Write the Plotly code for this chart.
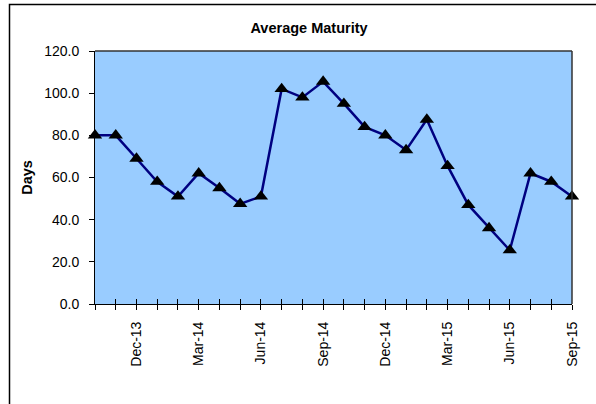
import plotly.graph_objects as go

months = ["Oct-13", "Nov-13", "Dec-13", "Jan-14", "Feb-14", "Mar-14", "Apr-14", "May-14",
          "Jun-14", "Jul-14", "Aug-14", "Sep-14", "Oct-14", "Nov-14", "Dec-14", "Jan-15",
          "Feb-15", "Mar-15", "Apr-15", "May-15", "Jun-15", "Jul-15", "Aug-15", "Sep-15"]
days = [80, 80, 69, 58, 51, 62, 55, 47.5, 51, 102, 98, 105.5, 95, 84, 80, 73,
        87.5, 65.5, 47, 36, 25.5, 62, 58, 51]
label_months = ["Dec-13", "Mar-14", "Jun-14", "Sep-14", "Dec-14", "Mar-15", "Jun-15", "Sep-15"]

idx = list(range(len(months)))

W, H = 596, 404
L, R, T, B = 95, 24, 51, 100
pw, ph = W - L - R, H - T - B

fig = go.Figure()
fig.add_trace(go.Scatter(
    x=idx, y=days, mode="lines+markers",
    line=dict(color="#000080", width=2.5),
    marker=dict(symbol="triangle-up", size=12.5, color="black"),
    cliponaxis=False, showlegend=False, hoverinfo="skip"))
# dummy trace for the inner tick axis
fig.add_trace(go.Scatter(x=idx, y=days, xaxis="x2", mode="none",
                         showlegend=False, hoverinfo="skip"))

FAM = "Liberation Sans, Arial, sans-serif"
font = dict(family=FAM, size=14, color="black")

fig.update_layout(
    width=W, height=H,
    margin=dict(l=L, r=R, t=T, b=B, pad=0),
    paper_bgcolor="white",
    plot_bgcolor="#99CCFF",
    font=font,
    title=dict(text="<b>Average Maturity</b>", x=(309 - L) / pw, xref="paper",
               xanchor="center", y=1 - 27.5 / H, yanchor="middle",
               font=dict(family=FAM, size=14.5, color="black")),
    xaxis=dict(
        range=[0, len(months) - 1], tickmode="array", tickvals=idx,
        ticktext=[m if m in label_months else "" for m in months],
        tickangle=-90, ticks="outside", ticklen=5, tickwidth=1, tickcolor="black",
        ticklabelstandoff=6,
        showline=True, linecolor="black", linewidth=1, showgrid=False, zeroline=False,
        mirror=False, tickfont=font),
    xaxis2=dict(
        range=[0, len(months) - 1], overlaying="x", anchor="y", side="bottom",
        tickmode="array", tickvals=idx, ticks="inside", ticklen=5, tickwidth=1,
        tickcolor="black", showticklabels=False, showline=False, showgrid=False,
        zeroline=False),
    yaxis=dict(
        range=[0, 120], tickmode="linear", tick0=0, dtick=20, tickformat=".1f",
        ticks="outside", ticklen=5, tickwidth=1, tickcolor="black",
        ticklabelstandoff=7,
        showline=True, linecolor="black", linewidth=1, showgrid=False, zeroline=False,
        tickfont=font,
        title=dict(text="<b>Days</b>", standoff=8,
                   font=dict(family=FAM, size=14.5, color="black"))),
    shapes=[
        # plot-area frame (top and right)
        dict(type="line", xref="paper", yref="paper", x0=0, x1=1, y0=1, y1=1,
             line=dict(color="#333333", width=1.5)),
        dict(type="line", xref="paper", yref="paper", x0=1, x1=1, y0=0, y1=1,
             line=dict(color="#333333", width=1.5)),
        # chart outer border
        dict(type="rect", xref="paper", yref="paper",
             x0=(9.5 - L) / pw, x1=(640 - L) / pw,
             y0=-(440 - (H - B)) / ph, y1=1 + (T - 4.5) / ph,
             line=dict(color="black", width=1.5), layer="above"),
    ],
)

fig.write_html("out.html", config={"displayModeBar": False},
               post_script="document.body.style.margin='0';document.body.style.overflow='hidden';")
